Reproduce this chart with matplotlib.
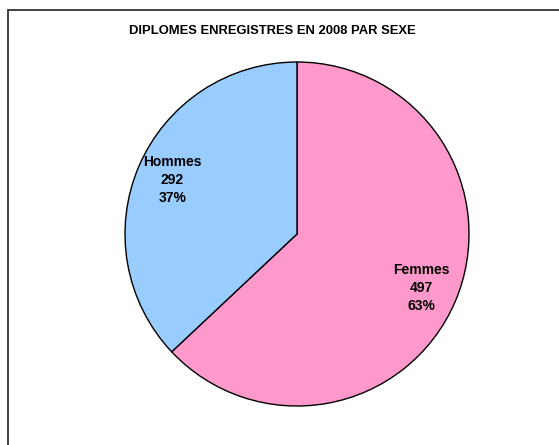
import matplotlib.pyplot as plt
from matplotlib.patches import Rectangle

# data
categories = ["Femmes", "Hommes"]
values = [497, 292]
colors = ["#FF99CC", "#99CCFF"]

plt.rcParams['font.family'] = ['Liberation Sans', 'DejaVu Sans']

fig = plt.figure(figsize=(5.59, 4.45), dpi=100)

# outer chart frame (only top and left sides visible in the reference)
fig.patches.append(Rectangle((8 / 559, -0.5), 1.5, 1.5 - 10 / 445, transform=fig.transFigure,
                             fill=False, edgecolor="#333333", linewidth=1.3))

fig.text(272 / 559, 1 - 31 / 445, "DIPLOMES ENREGISTRES EN 2008 PAR SEXE",
         ha="center", va="center", fontsize=9.4, fontweight="bold")

ax = fig.add_axes([125 / 559, 39 / 445, 344 / 559, 344 / 445])

total = sum(values)


def make_label(pct):
    # find matching category by percentage
    for name, v in zip(categories, values):
        if abs(v / total * 100 - pct) < 0.01:
            return f"{name}\n{v}\n{round(pct)}%"
    return ""


wedges, texts, autotexts = ax.pie(values, colors=colors, startangle=90, counterclock=False,
                                  radius=1, autopct=make_label, pctdistance=0.79,
                                  wedgeprops=dict(edgecolor="black", linewidth=1),
                                  textprops=dict(fontsize=10, fontweight="bold"))
for t in autotexts:
    t.set_linespacing(1.35)

ax.set_xlim(-1, 1)
ax.set_ylim(-1, 1)
ax.set_aspect("equal")
ax.axis("off")

fig.savefig("out.png", dpi=100)
